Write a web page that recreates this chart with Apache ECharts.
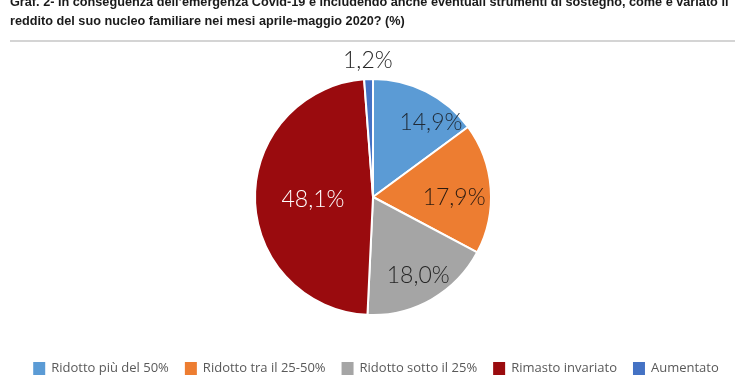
<!DOCTYPE html>
<html>
<head>
<meta charset="utf-8">
<script src="https://cdn.jsdelivr.net/npm/echarts@6/dist/echarts.min.js"></script>
<style>
  html, body { margin: 0; padding: 0; background: #fff; }
  #chart { width: 750px; height: 375px; }
</style>
</head>
<body>
<div id="chart"></div>
<script>
// categorie e valori (%)
var categories = ["Ridotto più del 50%", "Ridotto tra il 25-50%", "Ridotto sotto il 25%", "Rimasto invariato", "Aumentato"];
var values = [14.9, 17.9, 18.0, 48.1, 1.2];
var colors = ["#5B9BD5", "#ED7D31", "#A5A5A5", "#9A0B0E", "#4472C4"];
var labelColors = ["#1f2a36", "#2a1a10", "#262626", "#ffffff", "#262626"];

var titleText = "Graf. 2- In conseguenza dell\u2019emergenza Covid-19 e includendo anche eventuali strumenti di sostegno, come \u00e8 variato il\nreddito del suo nucleo familiare nei mesi aprile-maggio 2020? (%)";

var R = 118;

function fmt(v) {
  return v.toFixed(1).replace(".", ",") + "%";
}

// quale livello di etichetta usa ogni fetta: 0 = mezzo raggio, 1 = interno spostato, 2 = esterno
var labelRing = [1, 1, 1, 0, 2];
// piccoli spostamenti delle etichette come nel grafico originale
var labelShift = [[14, 13], [-16, 8], [-3, -6], [2, 2], [0, 0]];

function makeData(ring) {
  return categories.map(function(name, i) {
    return {
      name: name,
      value: values[i],
      itemStyle: ring === 0 ? { color: colors[i] } : { color: "transparent", borderWidth: 0 },
      label: {
        show: labelRing[i] === ring,
        color: labelColors[i],
        offset: labelShift[i]
      }
    };
  });
}

function labelStyle() {
  return {
    position: "inside",
    fontFamily: "Lato",
    fontWeight: 300,
    fontSize: 23,
    formatter: function(p) { return fmt(p.value); }
  };
}

var myChart = echarts.init(document.getElementById("chart"));
myChart.setOption({
  animation: false,
  title: {
    text: titleText,
    left: 5,
    top: -12,
    textStyle: {
      fontFamily: "Liberation Sans",
      fontWeight: "bold",
      fontSize: 12.7,
      lineHeight: 19,
      color: "#1a1a1a"
    }
  },
  graphic: [{
    type: "line",
    shape: { x1: 10, y1: 41, x2: 735, y2: 41 },
    style: { stroke: "#d4d4d4", lineWidth: 2 }
  }],
  legend: {
    top: 355,
    left: "center",
    icon: "rect",
    itemWidth: 14,
    itemHeight: 15,
    itemGap: 14,
    textStyle: { fontFamily: "Open Sans", fontSize: 13, color: "#595959" },
    data: categories.map(function(name, i) {
      return { name: name, itemStyle: { color: colors[i] } };
    })
  },
  series: [
    {
      type: "pie",
      center: [373, 197],
      radius: [0, R],
      startAngle: 90,
      clockwise: true,
      itemStyle: { borderColor: "#fff", borderWidth: 2 },
      label: labelStyle(),
      labelLine: { show: false },
      emphasis: { disabled: true },
      data: makeData(0)
    },
    {
      type: "pie",
      center: [373, 197],
      radius: [0, R * 1.6],
      startAngle: 90,
      clockwise: true,
      silent: true,
      label: labelStyle(),
      labelLine: { show: false },
      emphasis: { disabled: true },
      data: makeData(1)
    },
    {
      type: "pie",
      center: [373, 197],
      radius: [0, R * 2.27],
      startAngle: 90,
      clockwise: true,
      silent: true,
      label: labelStyle(),
      labelLine: { show: false },
      emphasis: { disabled: true },
      data: makeData(2)
    }
  ]
});
</script>
</body>
</html>
